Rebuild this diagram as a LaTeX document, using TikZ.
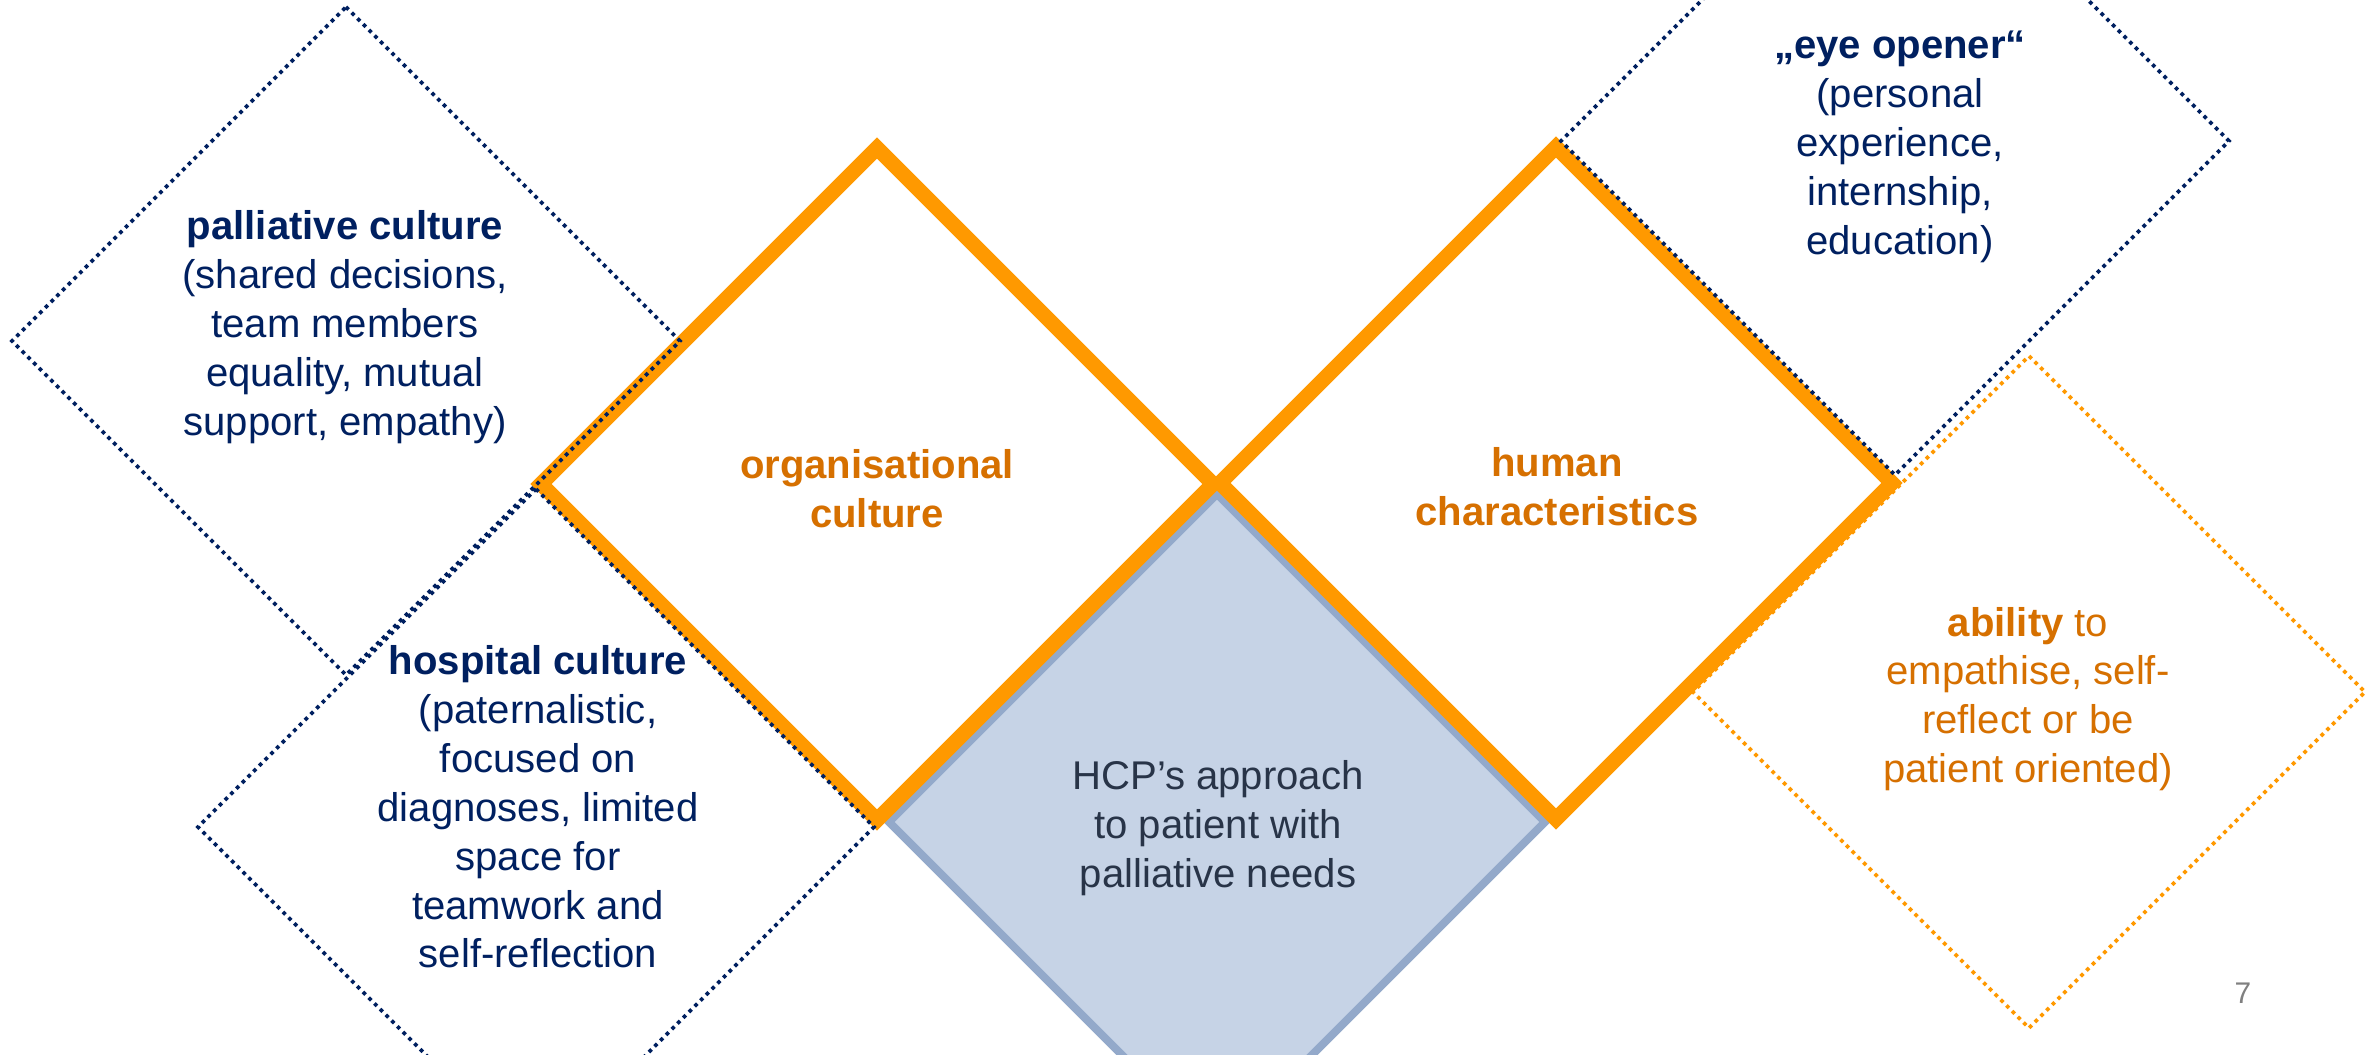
\documentclass[tikz,border=0pt]{standalone}
\usepackage{fontspec}
\setmainfont{Liberation Sans}
\usepackage{xcolor}
\definecolor{navy}{RGB}{0,32,96}
\definecolor{linorange}{RGB}{255,153,0}
\definecolor{txtorange}{RGB}{214,112,0}
\definecolor{corefill}{RGB}{198,211,230}
\definecolor{coreline}{RGB}{147,169,202}
\definecolor{coretext}{RGB}{40,52,72}

\begin{document}
\begin{tikzpicture}[x=0.01cm,y=-0.01cm,
  thickbox/.style={draw=linorange,line width=4.3pt},
  corebox/.style={draw=coreline,fill=corefill,line width=2.3pt},
  dotbox/.style={line width=1.05pt,dash pattern=on 1.05pt off 1.25pt},
  txt/.style={align=center,font=\fontsize{11.4pt}{13.9pt}\selectfont}]
  \clip (0,0) rectangle (2376,1055);
  \fill[white] (0,0) rectangle (2376,1055);
  % centre diamond, runs off the page
  \draw[corebox] (1217,494) -- (1545,822) -- (1217,1150) -- (889,822) -- cycle;
  % the two orange diamonds
  \draw[thickbox] (877,148) -- (1213,484) -- (877,820) -- (541,484) -- cycle;
  \draw[thickbox] (1556,147) -- (1892,483) -- (1556,819) -- (1220,483) -- cycle;
  % dotted diamonds
  \draw[dotbox,navy] (346,7) -- (680,341) -- (346,675) -- (12,341) -- cycle;
  \draw[dotbox,navy] (536,489) -- (874,827) -- (536,1165) -- (198,827) -- cycle;
  \draw[dotbox,navy] (1895,-193) -- (2229,141) -- (1895,475) -- (1561,141) -- cycle;
  \draw[dotbox,linorange] (2029,356) -- (2365,692) -- (2029,1028) -- (1693,692) -- cycle;

  \node[txt,navy] (pall) at (345,327) {\textbf{palliative culture}\\(shared decisions,\\team members\\equality, mutual\\support, empathy)};
  \node[txt,navy] (hosp) at (538,807) {\textbf{hospital culture}\\(paternalistic,\\focused on\\diagnoses, limited\\space for\\teamwork and\\self-reflection};
  \node[txt,txtorange] (orga) at (877,489) {\textbf{organisational}\\\textbf{culture}};
  \node[txt,txtorange] (human) at (1557,487) {\textbf{human}\\\textbf{characteristics}};
  \node[txt,coretext] (hcp) at (1218,828) {HCP’s approach\\to patient with\\palliative needs};
  \node[txt,navy] (eye) at (1900,147) {\textbf{„eye opener“}\\(personal\\experience,\\internship,\\education)};
  \node[txt,txtorange] (abil) at (2028,699) {\textbf{ability} to\\empathise, self-\\reflect or be\\patient oriented)};
  \node[gray,font=\fontsize{8.5pt}{10pt}\selectfont] (page) at (2243,993) {7};
\end{tikzpicture}
\end{document}
